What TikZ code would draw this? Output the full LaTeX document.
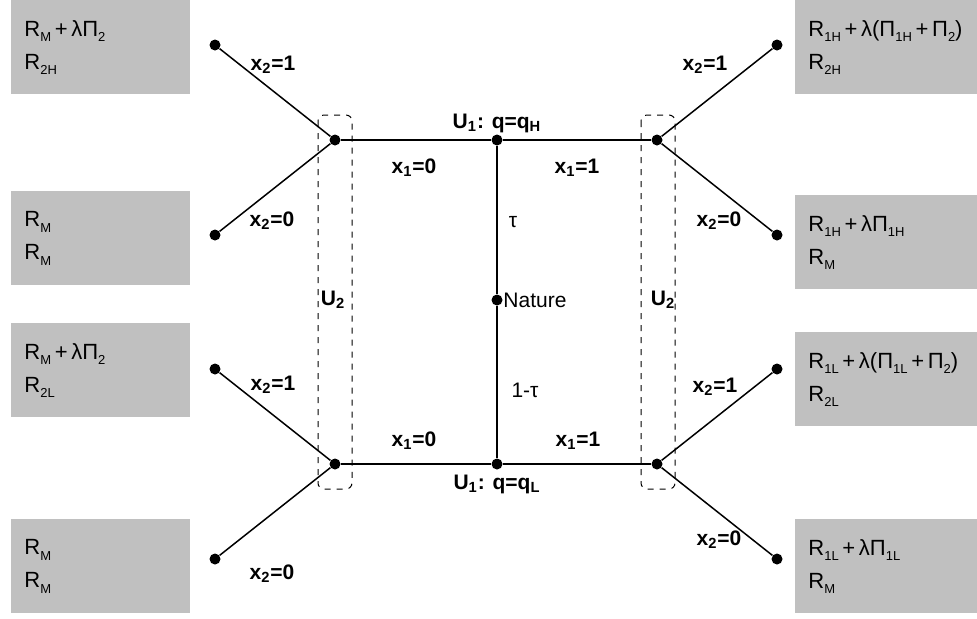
\documentclass[tikz,border=0pt]{standalone}
\usepackage{fontspec}
\setmainfont{Liberation Sans}
\usepackage{tikz}
\usetikzlibrary{positioning}
\definecolor{cajaGris}{HTML}{C0C0C0}
% subindice pequeño de los pagos
\newcommand{\sbx}[1]{\raisebox{-0.45ex}{\fontsize{6.5}{6.5}\selectfont #1}}
\newcommand{\mas}{\,+\,}

\begin{document}
\begin{tikzpicture}[
  x=0.5pt, y=-0.5pt,
  punto/.style={circle, fill=black, inner sep=0pt, minimum size=5.5pt},
  rama/.style={line width=1pt},
  hoja/.style={line width=0.75pt},
  info/.style={draw, dashed, rounded corners=3pt, line width=0.5pt},
  pago/.style={fill=cajaGris, anchor=north west, inner xsep=6.5pt, inner ysep=0pt,
    align=left, minimum height=47pt, font=\fontsize{11}{16.5}\selectfont},
  pagoI/.style={pago, text width=76.5pt},
  pagoD/.style={pago, text width=78pt},
  etq/.style={font=\bfseries\fontsize{10.5}{12}\selectfont, inner sep=1pt},
  etqN/.style={font=\fontsize{10.5}{12}\selectfont, inner sep=1pt}
]
  \useasboundingbox (0,0) rectangle (977,618);

  % --- Nodos de decisión ---
  \node[punto] (nat) at (497,300) {};
  \node[punto] (uH)  at (497,140) {};
  \node[punto] (uL)  at (497,464) {};
  \node[punto] (iH)  at (335,140) {};
  \node[punto] (iL)  at (335,464) {};
  \node[punto] (dH)  at (657,140) {};
  \node[punto] (dL)  at (657,464) {};

  % --- Hojas ---
  \node[punto] (iH1) at (215,45)  {};
  \node[punto] (iH0) at (215,235) {};
  \node[punto] (iL1) at (215,369) {};
  \node[punto] (iL0) at (215,559) {};
  \node[punto] (dH1) at (777,45)  {};
  \node[punto] (dH0) at (777,235) {};
  \node[punto] (dL1) at (777,369) {};
  \node[punto] (dL0) at (777,559) {};

  % --- Conjuntos de información de U2 ---
  \draw[info] (318,115) rectangle (352,489);
  \draw[info] (641,115) rectangle (675,489);

  % --- Ramas ---
  \draw[rama] (uH) -- (nat) -- (uL);
  \draw[rama] (iH) -- (uH) -- (dH);
  \draw[rama] (iL) -- (uL) -- (dL);
  \draw[hoja] (iH) -- (iH1);
  \draw[hoja] (iH) -- (iH0);
  \draw[hoja] (iL) -- (iL1);
  \draw[hoja] (iL) -- (iL0);
  \draw[hoja] (dH) -- (dH1);
  \draw[hoja] (dH) -- (dH0);
  \draw[hoja] (dL) -- (dL1);
  \draw[hoja] (dL) -- (dL0);

  % --- Etiquetas ---
  \node[etq] (tH) at (497,123) {U\textsubscript{1}: q=q\textsubscript{H}};
  \node[etq] (tL) at (497,484) {U\textsubscript{1}: q=q\textsubscript{L}};
  \node[etq] (a1) at (414,168) {x\textsubscript{1}=0};
  \node[etq] (a2) at (577,168) {x\textsubscript{1}=1};
  \node[etq] (a3) at (414,441) {x\textsubscript{1}=0};
  \node[etq] (a4) at (578,441) {x\textsubscript{1}=1};
  \node[etqN] (tau) at (513,222) {τ};
  \node[etqN, anchor=west] (natL) at (501,300) {Nature};
  \node[etqN] (tau2) at (525,390) {1-τ};
  \node[etq] (u2i) at (333,300) {U\textsubscript{2}};
  \node[etq] (u2d) at (663,300) {U\textsubscript{2}};
  \node[etq] (b1) at (273,65)  {x\textsubscript{2}=1};
  \node[etq] (b2) at (272,221) {x\textsubscript{2}=0};
  \node[etq] (b3) at (273,385) {x\textsubscript{2}=1};
  \node[etq] (b4) at (272,574) {x\textsubscript{2}=0};
  \node[etq] (b5) at (705,65)  {x\textsubscript{2}=1};
  \node[etq] (b6) at (719,221) {x\textsubscript{2}=0};
  \node[etq] (b7) at (715,387) {x\textsubscript{2}=1};
  \node[etq] (b8) at (719,540) {x\textsubscript{2}=0};

  % --- Pagos ---
  \node[pagoI] (p1) at (11,0)   {R\sbx{M}\mas λΠ\sbx{2}\\R\sbx{2H}};
  \node[pagoI] (p2) at (11,191) {R\sbx{M}\\R\sbx{M}};
  \node[pagoI] (p3) at (11,323) {R\sbx{M}\mas λΠ\sbx{2}\\R\sbx{2L}};
  \node[pagoI] (p4) at (11,519) {R\sbx{M}\\R\sbx{M}};
  \node[pagoD] (q1) at (795,0)   {R\sbx{1H}\mas λ(Π\sbx{1H}\mas Π\sbx{2})\\R\sbx{2H}};
  \node[pagoD] (q2) at (795,195) {R\sbx{1H}\mas λΠ\sbx{1H}\\R\sbx{M}};
  \node[pagoD] (q3) at (795,332) {R\sbx{1L}\mas λ(Π\sbx{1L}\mas Π\sbx{2})\\R\sbx{2L}};
  \node[pagoD] (q4) at (795,519) {R\sbx{1L}\mas λΠ\sbx{1L}\\R\sbx{M}};
\end{tikzpicture}
\end{document}
